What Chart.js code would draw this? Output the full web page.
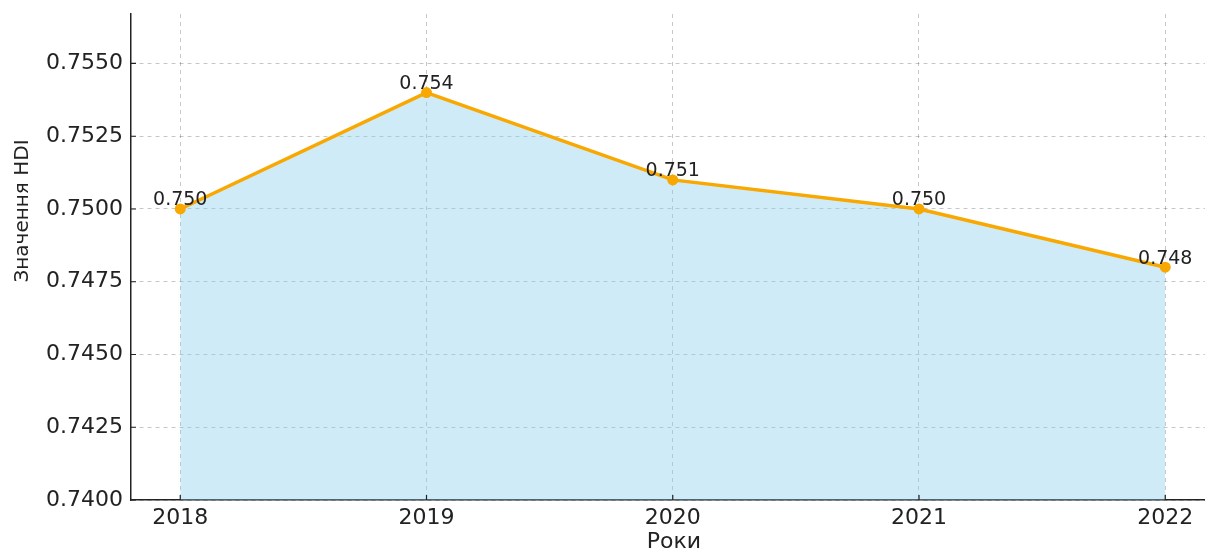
<!DOCTYPE html>
<html>
<head>
<meta charset="utf-8">
<script src="https://cdn.jsdelivr.net/npm/chart.js@4.4.1/dist/chart.umd.min.js"></script>
<style>
  html, body { margin: 0; padding: 0; background: #fff; overflow: hidden; }
  /* the original figure is cropped on the right, so the canvas runs past the window */
  #wrap { width: 1220px; height: 551px; }
</style>
</head>
<body>
<div id="wrap"><canvas id="hdiChart"></canvas></div>
<script>
const years = [2018, 2019, 2020, 2021, 2022];
const hdiValues = [0.750, 0.754, 0.751, 0.750, 0.748];
const yTickValues = [0.7400, 0.7425, 0.7450, 0.7475, 0.7500, 0.7525, 0.7550];
const xTitle = 'Роки';
const yTitle = 'Значення HDI';

Chart.defaults.font.family = "'DejaVu Sans', sans-serif";
Chart.defaults.color = '#222';

// labels above each point, like ax.text(..., ha='center', va='bottom')
const pointLabels = {
    id: 'pointLabels',
    afterDatasetsDraw(chart) {
        const ctx = chart.ctx;
        const meta = chart.getDatasetMeta(0);
        ctx.save();
        ctx.font = "19px 'DejaVu Sans'";
        ctx.fillStyle = '#222';
        ctx.textAlign = 'center';
        ctx.textBaseline = 'bottom';
        meta.data.forEach((pt, i) => {
            ctx.fillText(hdiValues[i].toFixed(3), pt.x, pt.y + 1);
        });
        ctx.restore();
    }
};

// inward tick marks + axis titles placed like the matplotlib figure
const axisExtras = {
    id: 'axisExtras',
    afterDraw(chart) {
        const ctx = chart.ctx;
        const area = chart.chartArea;
        ctx.save();
        ctx.strokeStyle = '#222';
        ctx.lineWidth = 1.2;
        ctx.beginPath();
        chart.scales.y.ticks.forEach(t => {
            const y = chart.scales.y.getPixelForValue(t.value);
            ctx.moveTo(area.left, y);
            ctx.lineTo(area.left + 5, y);
        });
        chart.scales.x.ticks.forEach(t => {
            const x = chart.scales.x.getPixelForValue(t.value);
            ctx.moveTo(x, area.bottom);
            ctx.lineTo(x, area.bottom - 5);
        });
        ctx.stroke();

        ctx.fillStyle = '#222';
        ctx.textAlign = 'center';
        ctx.textBaseline = 'middle';
        ctx.font = "22px 'DejaVu Sans'";
        ctx.fillText(xTitle, 674, 542);

        ctx.font = "20px 'DejaVu Sans'";
        ctx.translate(23, 211);
        ctx.rotate(-Math.PI / 2);
        ctx.fillText(yTitle, 0, 0);
        ctx.restore();
    }
};

const ctx = document.getElementById('hdiChart').getContext('2d');
new Chart(ctx, {
    type: 'line',
    data: {
        datasets: [{
            data: years.map((yr, i) => ({ x: yr, y: hdiValues[i] })),
            borderColor: 'rgb(248, 168, 0)',
            borderWidth: 3.5,
            backgroundColor: 'rgba(135, 206, 235, 0.4)',
            fill: 'start',
            pointRadius: 5.5,
            pointBackgroundColor: 'rgb(248, 168, 0)',
            pointBorderWidth: 0,
            tension: 0
        }]
    },
    options: {
        responsive: true,
        maintainAspectRatio: false,
        animation: false,
        layout: { padding: { top: 14, left: 0, right: 0, bottom: 0 } },
        plugins: {
            legend: { display: false },
            tooltip: { enabled: false }
        },
        scales: {
            x: {
                type: 'linear',
                min: 2017.8,
                max: 2022.2,
                afterBuildTicks: scale => { scale.ticks = years.map(v => ({ value: v })); },
                afterFit: scale => {
                    scale.height = 51;
                    scale.paddingLeft = 0;
                    scale.paddingRight = 0;
                },
                ticks: {
                    font: { size: 22 },
                    padding: 5,
                    maxRotation: 0,
                    callback: v => String(v)
                },
                grid: {
                    color: 'rgba(0,0,0,0.22)',
                    drawTicks: false
                },
                border: { display: true, color: '#222', width: 1.5, dash: [4, 4] }
            },
            y: {
                min: 0.7400,
                max: 0.7567,
                afterBuildTicks: scale => { scale.ticks = yTickValues.map(v => ({ value: v })); },
                afterFit: scale => {
                    scale.width = 131;
                    scale.paddingTop = 0;
                    scale.paddingBottom = 0;
                },
                ticks: {
                    font: { size: 22 },
                    padding: 8,
                    callback: v => v.toFixed(4)
                },
                grid: {
                    color: 'rgba(0,0,0,0.22)',
                    drawTicks: false
                },
                border: { display: true, color: '#222', width: 1.5, dash: [4, 4] }
            }
        }
    },
    plugins: [pointLabels, axisExtras]
});
</script>
</body>
</html>
